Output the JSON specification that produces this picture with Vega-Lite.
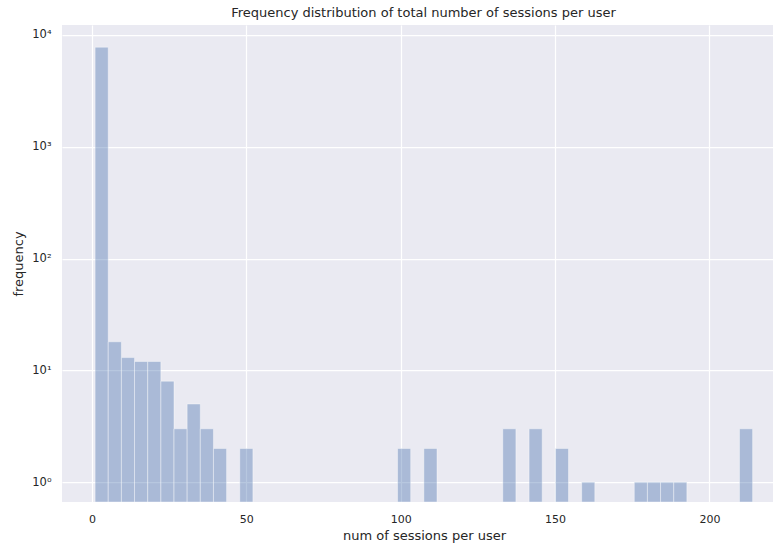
{
  "$schema": "https://vega.github.io/schema/vega-lite/v6.json",
  "width": 711,
  "height": 477,
  "autosize": "none",
  "padding": {"left": 62, "top": 25, "right": 0, "bottom": 45},
  "background": "white",
  "title": {
    "text": "Frequency distribution of total number of sessions per user",
    "font": "DejaVu Sans",
    "fontSize": 13,
    "fontWeight": "normal",
    "color": "#262626",
    "offset": 5,
    "dx": 6
  },
  "config": {
    "view": {"fill": "#EAEAF2", "stroke": null},
    "axis": {
      "grid": true,
      "gridColor": "white",
      "gridWidth": 1.25,
      "domain": false,
      "ticks": false,
      "labelFont": "DejaVu Sans",
      "labelFontSize": 11,
      "labelColor": "#262626",
      "titleFont": "DejaVu Sans",
      "titleFontSize": 13,
      "titleFontWeight": "normal",
      "titleColor": "#262626"
    }
  },
  "data": {
    "values": [
      {"bin_start": 1.0, "bin_end": 5.26, "count": 7770},
      {"bin_start": 5.26, "bin_end": 9.52, "count": 18},
      {"bin_start": 9.52, "bin_end": 13.78, "count": 13},
      {"bin_start": 13.78, "bin_end": 18.04, "count": 12},
      {"bin_start": 18.04, "bin_end": 22.30, "count": 12},
      {"bin_start": 22.30, "bin_end": 26.56, "count": 8},
      {"bin_start": 26.56, "bin_end": 30.82, "count": 3},
      {"bin_start": 30.82, "bin_end": 35.08, "count": 5},
      {"bin_start": 35.08, "bin_end": 39.34, "count": 3},
      {"bin_start": 39.34, "bin_end": 43.60, "count": 2},
      {"bin_start": 47.86, "bin_end": 52.12, "count": 2},
      {"bin_start": 98.98, "bin_end": 103.24, "count": 2},
      {"bin_start": 107.50, "bin_end": 111.76, "count": 2},
      {"bin_start": 133.06, "bin_end": 137.32, "count": 3},
      {"bin_start": 141.58, "bin_end": 145.84, "count": 3},
      {"bin_start": 150.10, "bin_end": 154.36, "count": 2},
      {"bin_start": 158.62, "bin_end": 162.88, "count": 1},
      {"bin_start": 175.66, "bin_end": 179.92, "count": 1},
      {"bin_start": 179.92, "bin_end": 184.18, "count": 1},
      {"bin_start": 184.18, "bin_end": 188.44, "count": 1},
      {"bin_start": 188.44, "bin_end": 192.70, "count": 1},
      {"bin_start": 209.74, "bin_end": 214.00, "count": 3}
    ]
  },
  "mark": {
    "type": "bar",
    "fill": "#4C72B0",
    "fillOpacity": 0.4,
    "stroke": "white",
    "strokeOpacity": 0.4,
    "strokeWidth": 1,
    "clip": true
  },
  "encoding": {
    "x": {
      "field": "bin_start",
      "type": "quantitative",
      "scale": {"domain": [-9.72, 220.6], "nice": false, "zero": false},
      "axis": {"values": [0, 50, 100, 150, 200], "labelPadding": 11, "titlePadding": 5, "titleX": 362, "title": "num of sessions per user"}
    },
    "x2": {"field": "bin_end"},
    "y": {
      "field": "count",
      "type": "quantitative",
      "scale": {"type": "log", "domain": [0.664, 12270], "nice": false},
      "axis": {
        "values": [1, 10, 100, 1000, 10000],
        "labelExpr": "'10' + ['⁰','¹','²','³','⁴'][round(log(datum.value)/LN10)]",
        "labelFontSize": 11.5,
        "labelPadding": 11,
        "titlePadding": 6,
        "title": "frequency"
      }
    },
    "y2": {"datum": 0.664}
  }
}
